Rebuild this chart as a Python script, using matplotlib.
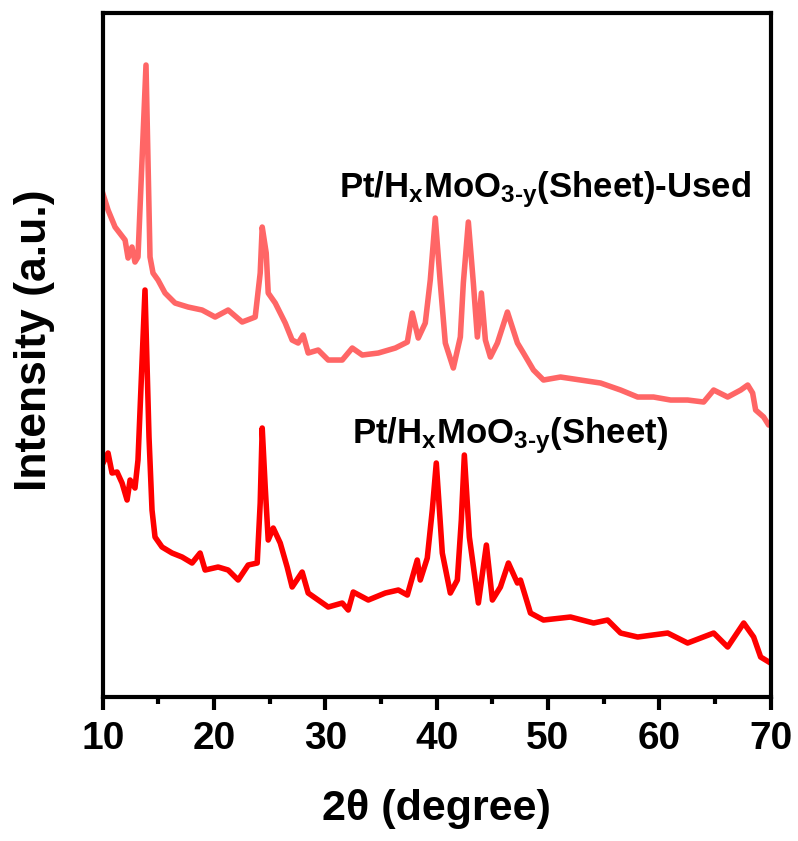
import matplotlib
matplotlib.use("Agg")
import matplotlib.pyplot as plt

# XRD patterns, 2theta in degrees, intensity in arbitrary units
theta_used = [10.0, 10.48, 11.11, 12.01, 12.28, 12.63, 12.90, 13.17, 13.89, 14.25,
              14.52, 14.97, 15.60, 16.50, 17.67, 18.93, 20.10, 21.27, 22.53, 23.70,
              24.15, 24.33, 24.69, 24.87, 25.50, 26.40, 27.02, 27.56, 28.01, 28.46,
              29.36, 30.26, 31.52, 32.42, 33.32, 34.76, 36.29, 37.37, 37.81, 38.35,
              38.98, 39.43, 39.88, 40.33, 40.78, 41.50, 42.13, 42.40, 42.85, 43.30,
              43.66, 44.02, 44.38, 44.83, 45.46, 46.36, 47.26, 47.80, 48.70, 49.60,
              51.13, 52.93, 54.73, 56.53, 58.06, 59.49, 61.02, 62.55, 63.99, 64.89,
              66.15, 67.32, 67.95, 68.39, 68.66, 69.38, 69.83, 70.0]
int_used = [504, 487, 470, 457, 439, 450, 435, 440, 632, 440,
            424, 417, 404, 394, 390, 387, 380, 387, 375, 380,
            424, 470, 444, 404, 394, 374, 357, 354, 362, 344,
            347, 337, 337, 349, 342, 344, 349, 355, 384, 359,
            374, 417, 479, 414, 354, 329, 360, 414, 475, 414,
            360, 404, 357, 340, 354, 385, 354, 344, 327, 317,
            320, 317, 314, 307, 300, 300, 297, 297, 295, 307,
            300, 307, 312, 304, 287, 280, 272, 272]

theta_sheet = [10.03, 10.48, 10.84, 11.29, 11.74, 12.19, 12.46, 12.90, 13.17, 13.80,
               14.16, 14.43, 14.70, 15.33, 16.23, 17.13, 18.03, 18.75, 19.20, 20.37,
               21.27, 22.17, 23.07, 23.88, 24.15, 24.33, 24.60, 24.87, 25.32, 25.95,
               26.57, 27.02, 27.92, 28.46, 29.36, 30.26, 31.52, 32.06, 32.51, 33.86,
               35.39, 36.56, 37.37, 38.26, 38.53, 39.16, 39.61, 39.97, 40.51, 41.23,
               41.86, 42.22, 42.49, 42.94, 43.75, 44.47, 45.01, 45.73, 46.45, 47.26,
               47.53, 48.43, 49.60, 52.03, 54.10, 55.36, 56.53, 58.06, 60.76, 62.55,
               64.89, 66.15, 67.59, 68.48, 69.11, 70.0]
int_sheet = [234, 244, 224, 225, 214, 197, 217, 209, 237, 407,
             260, 187, 160, 150, 144, 140, 134, 144, 127, 130,
             127, 117, 132, 134, 194, 269, 210, 157, 169, 154,
             130, 110, 125, 104, 97, 90, 94, 87, 105, 97,
             104, 107, 102, 137, 117, 139, 187, 234, 144, 104,
             117, 177, 242, 160, 94, 152, 97, 110, 134, 114,
             117, 84, 77, 80, 74, 77, 64, 60, 64, 54,
             64, 50, 74, 60, 40, 34]

label_used = r"Pt/H$_{x}$MoO$_{3\text{-}y}$(Sheet)-Used"
label_sheet = r"Pt/H$_{x}$MoO$_{3\text{-}y}$(Sheet)"


def main():
    plt.rcParams["font.family"] = "Liberation Sans"
    plt.rcParams["font.weight"] = "bold"
    plt.rcParams["mathtext.fontset"] = "custom"
    plt.rcParams["mathtext.rm"] = "Liberation Sans:bold"
    plt.rcParams["mathtext.it"] = "Liberation Sans:bold"
    plt.rcParams["mathtext.bf"] = "Liberation Sans:bold"

    fig = plt.figure(figsize=(7.98, 8.41), dpi=100)
    ax = fig.add_axes([0.1287, 0.1712, 0.8369, 0.8133])

    ax.plot(theta_used, int_used, color="#ff6666", linewidth=4)
    ax.plot(theta_sheet, int_sheet, color="#ff0000", linewidth=4)

    ax.text(31.2, 500, label_used, fontsize=25, fontweight="bold")
    ax.text(32.4, 254, label_sheet, fontsize=25, fontweight="bold")

    ax.set_xlim(10, 70)
    ax.set_ylim(0, 684)
    ax.set_xticks(range(10, 71, 10))
    ax.set_xticks(range(15, 70, 10), minor=True)
    ax.set_yticks([])
    ax.tick_params(axis="x", which="major", length=9.4, width=3, labelsize=28, pad=8)
    ax.tick_params(axis="x", which="minor", length=4.8, width=3)
    for s in ax.spines.values():
        s.set_linewidth(3)

    ax.set_xlabel("2\u03b8 (degree)", fontsize=31, fontweight="bold")
    ax.xaxis.set_label_coords(0.5, -0.135)
    ax.set_ylabel("Intensity (a.u.)", fontsize=32, fontweight="bold")
    ax.yaxis.set_label_coords(-0.071, 0.522)

    fig.savefig("out.png", dpi=100)


if __name__ == "__main__":
    main()
